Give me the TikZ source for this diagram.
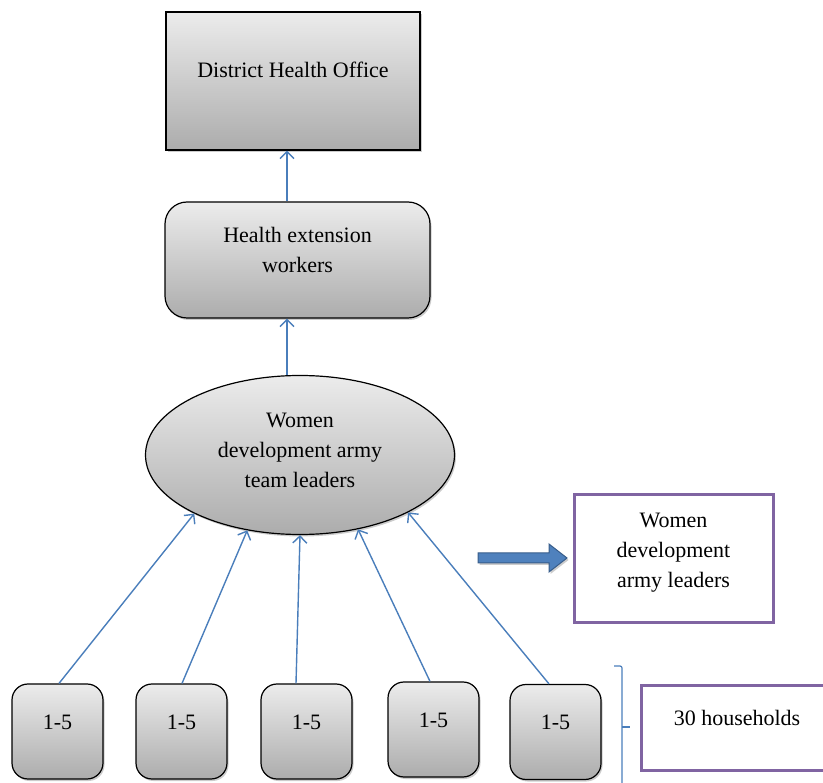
\documentclass[tikz,border=0pt]{standalone}
\usepackage{fontspec}
\setmainfont{Liberation Serif}
\usetikzlibrary{shapes.geometric,shadows,arrows.meta}
\definecolor{lineblue}{HTML}{4A7EBB}
\definecolor{fatblue}{HTML}{4F81BD}
\definecolor{fatedge}{HTML}{385D8A}
\definecolor{boxpurple}{HTML}{8064A2}

\begin{document}
\begin{tikzpicture}[x=1pt,y=-1pt,font=\fontsize{22}{30}\selectfont,
  greybox/.style={draw,line width=1.2pt,top color=gray!15,bottom color=gray!65,
    drop shadow={shadow xshift=1.5pt,shadow yshift=-2pt,opacity=0.4},align=center,inner sep=0pt},
  leaderbox/.style={draw=boxpurple,line width=3pt,fill=white,align=center,inner sep=0pt},
  link/.style={lineblue,line width=1.4pt,-{Straight Barb[length=7pt,width=14pt]}}]
  \useasboundingbox (0,0) rectangle (823,783);
  % upper levels
  \node[greybox,minimum width=254,minimum height=138,text depth=22pt] (dho) at (293,81) {District Health Office};
  \node[greybox,rounded corners=22pt,minimum width=265,minimum height=116,text depth=20pt] (hew) at (297.5,260) {Health extension\\workers};
  \node[greybox,ellipse,minimum width=309,minimum height=159,text depth=10pt] (wdat) at (300,455) {Women\\development army\\team leaders};
  \draw[link] ([xshift=-10.5pt]hew.north) -- ([xshift=-6pt]dho.south);
  \draw[link] ([xshift=-13pt]wdat.north) -- ([xshift=-10.5pt]hew.south);
  % households
  \foreach \b/\x/\y in {b1/57.5/731.5,b2/181.5/731.5,b3/306.5/731.5,b4/433.5/729.5,b5/555.5/732}
    \node[greybox,rounded corners=16pt,minimum width=91,minimum height=95,text depth=19pt] (\b) at (\x,\y) {1-5};
  \foreach \b/\a/\s in {b1/209/1.5,b2/235/0.5,b3/270/-10.5,b4/308/-3.5,b5/332/-6.5}
    \draw[link] ([xshift=\s pt]\b.north) -- (wdat.\a);
  % legend
  \draw[fatedge,line width=1pt,fill=fatblue,drop shadow={shadow xshift=1.5pt,shadow yshift=-2pt,opacity=0.4}]
    (478,553) -- (549,553) -- (549,544) -- (567,558) -- (549,572) -- (549,563) -- (478,563) -- cycle;
  \node[leaderbox,minimum width=199,minimum height=128,text depth=17pt] (wdal) at (673.5,559) {Women\\development\\army leaders};
  \draw[lineblue,line width=1.2pt,rounded corners=2pt] (614,666) -- (622,666) -- (622,790);
  \draw[lineblue,line width=1.2pt] (622,727) -- (630,727);
  \node[leaderbox,minimum width=192,minimum height=84,text depth=20pt] (house) at (737,728) {30 households};
\end{tikzpicture}
\end{document}
